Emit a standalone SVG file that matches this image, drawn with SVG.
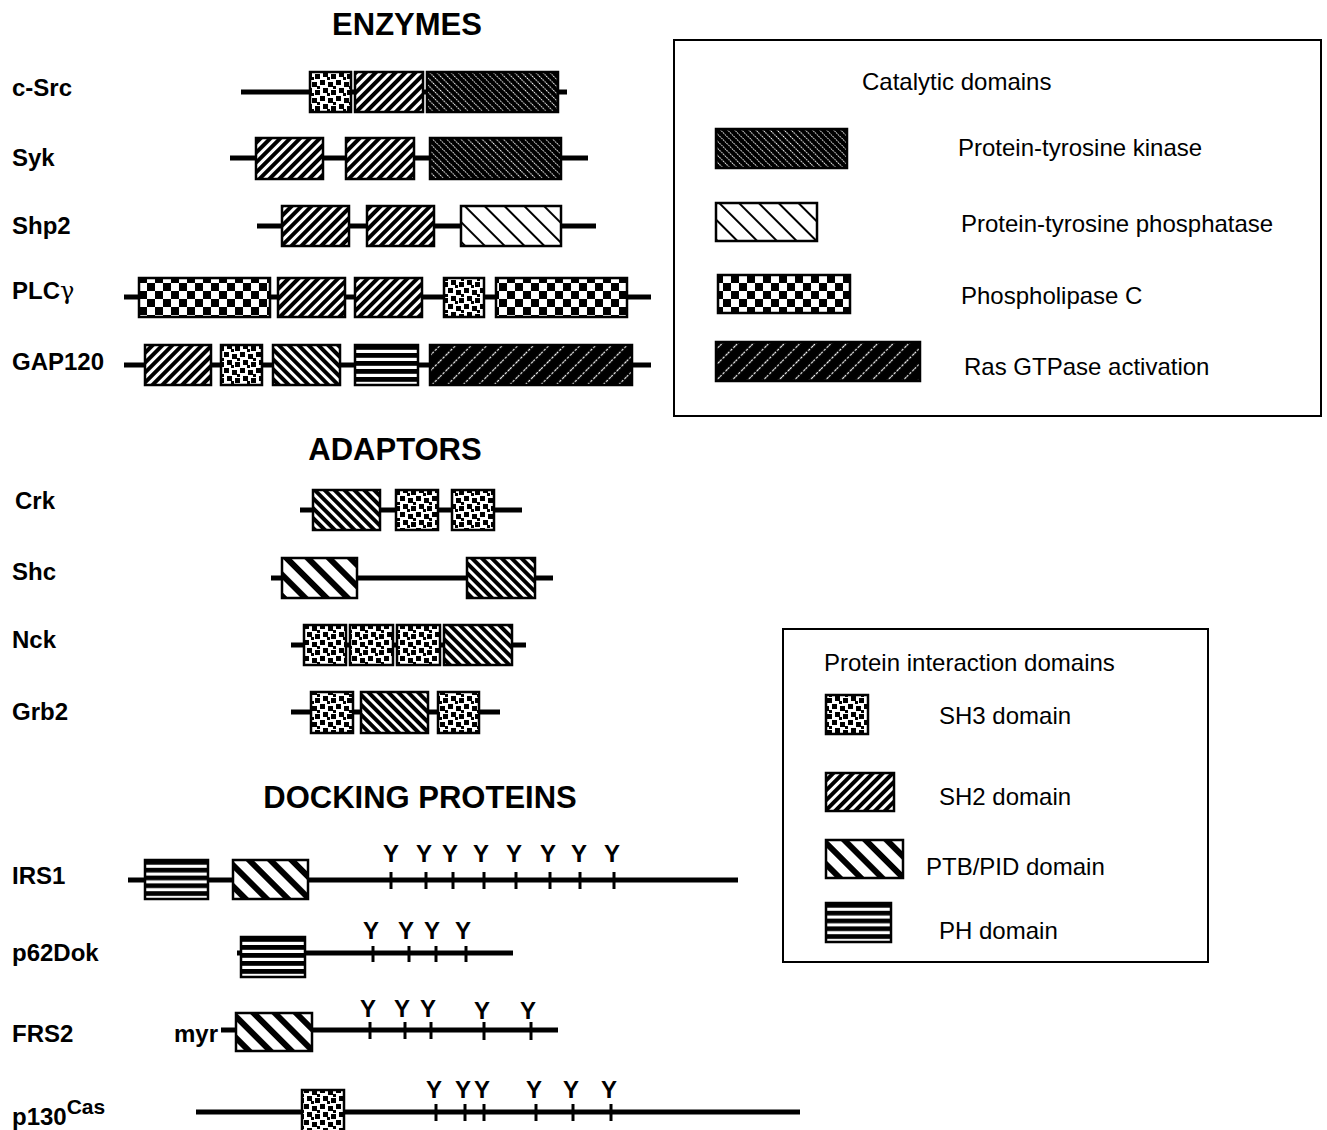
<svg xmlns="http://www.w3.org/2000/svg" width="1327" height="1130" viewBox="0 0 1327 1130">
<style>
text{font-family:"Liberation Sans",Arial,sans-serif;fill:#000}
.t{font-size:31px;font-weight:bold;text-anchor:middle}
.lb{font-size:24px;font-weight:bold}
.lg{font-size:24px}
.y{font-size:24px;font-weight:bold;text-anchor:middle}
.bb{stroke:#000;stroke-width:5;fill:none}
.tk{stroke:#000;stroke-width:3}
.bx{stroke:#000;stroke-width:2.5}
.fr{fill:none;stroke:#000;stroke-width:2}
</style>
<defs>
<pattern id="sh3" patternUnits="userSpaceOnUse" width="16" height="16">
<rect width="16" height="16" fill="#fff"/>
<rect x="0" y="0" width="5" height="5"/><rect x="8" y="2" width="5" height="5"/><rect x="3" y="8" width="5" height="5"/><rect x="11" y="10" width="5" height="5"/><rect x="7" y="13" width="3" height="3"/><rect x="13" y="6" width="3" height="3"/>
</pattern>
<pattern id="sh2" patternUnits="userSpaceOnUse" width="7" height="7" patternTransform="rotate(45)">
<rect width="7" height="7" fill="#fff"/><rect width="4" height="7" fill="#000"/>
</pattern>
<pattern id="sh2b" patternUnits="userSpaceOnUse" width="7" height="7" patternTransform="rotate(-45)">
<rect width="7" height="7" fill="#fff"/><rect width="4" height="7" fill="#000"/>
</pattern>
<pattern id="ptb" patternUnits="userSpaceOnUse" width="15" height="15" patternTransform="rotate(-45)">
<rect width="15" height="15" fill="#fff"/><rect width="6" height="15" fill="#000"/>
</pattern>
<pattern id="ptp" patternUnits="userSpaceOnUse" width="14" height="14" patternTransform="rotate(-45)">
<rect width="14" height="14" fill="#fff"/><rect width="2" height="14" fill="#000"/>
</pattern>
<pattern id="ptk" patternUnits="userSpaceOnUse" width="5" height="5" patternTransform="rotate(-45)">
<rect width="5" height="5" fill="#000"/><line x1="2.5" y1="0" x2="2.5" y2="5" stroke="#fff" stroke-width="1" stroke-dasharray="1.5 1.2"/>
</pattern>
<pattern id="plc" patternUnits="userSpaceOnUse" width="16" height="16">
<rect width="16" height="16" fill="#000"/><rect x="3" y="3" width="8" height="8" fill="#fff"/><rect x="11" y="11" width="8" height="8" fill="#fff"/><rect x="-5" y="11" width="8" height="8" fill="#fff"/><rect x="11" y="-5" width="8" height="8" fill="#fff"/><rect x="-5" y="-5" width="8" height="8" fill="#fff"/>
</pattern>
<pattern id="gap" patternUnits="userSpaceOnUse" width="11" height="11" patternTransform="rotate(45)">
<rect width="11" height="11" fill="#000"/><line x1="5.5" y1="0" x2="5.5" y2="11" stroke="#fff" stroke-width="1.2" stroke-dasharray="2.5 1.5"/>
</pattern>
<pattern id="ph" patternUnits="objectBoundingBox" patternContentUnits="objectBoundingBox" width="1" height="0.2">
<rect width="1" height="0.2" fill="#fff"/><rect width="1" height="0.12" fill="#000"/>
</pattern>
</defs>

<text class="t" x="407" y="35">ENZYMES</text>
<text class="t" x="395" y="460">ADAPTORS</text>
<text class="t" x="420" y="808">DOCKING PROTEINS</text>

<g id="c-Src">
<text class="lb" x="12" y="96">c-Src</text>
<line class="bb" x1="241" y1="92" x2="567" y2="92"/>
<rect class="bx" x="310" y="72" width="41" height="40" fill="url(#sh3)"/>
<rect class="bx" x="355" y="72" width="68" height="40" fill="url(#sh2)"/>
<rect class="bx" x="427" y="72" width="131" height="40" fill="url(#ptk)"/>
</g>
<g id="Syk">
<text class="lb" x="12" y="166">Syk</text>
<line class="bb" x1="230" y1="158" x2="588" y2="158"/>
<rect class="bx" x="256" y="138" width="67" height="41" fill="url(#sh2)"/>
<rect class="bx" x="346" y="138" width="68" height="41" fill="url(#sh2)"/>
<rect class="bx" x="430" y="138" width="131" height="41" fill="url(#ptk)"/>
</g>
<g id="Shp2">
<text class="lb" x="12" y="234">Shp2</text>
<line class="bb" x1="257" y1="226" x2="596" y2="226"/>
<rect class="bx" x="282" y="206" width="67" height="40" fill="url(#sh2)"/>
<rect class="bx" x="367" y="206" width="67" height="40" fill="url(#sh2)"/>
<rect class="bx" x="461" y="206" width="100" height="40" fill="url(#ptp)"/>
</g>
<g id="PLCg">
<text class="lb" x="12" y="299">PLC<tspan font-weight="normal" font-family="DejaVu Serif,serif">γ</tspan></text>
<line class="bb" x1="124" y1="297" x2="651" y2="297"/>
<rect class="bx" x="139" y="278" width="131" height="39" fill="url(#plc)"/>
<rect class="bx" x="278" y="278" width="67" height="39" fill="url(#sh2)"/>
<rect class="bx" x="355" y="278" width="67" height="39" fill="url(#sh2)"/>
<rect class="bx" x="444" y="278" width="40" height="39" fill="url(#sh3)"/>
<rect class="bx" x="496" y="278" width="131" height="39" fill="url(#plc)"/>
</g>
<g id="GAP120">
<text class="lb" x="12" y="370">GAP120</text>
<line class="bb" x1="124" y1="365" x2="651" y2="365"/>
<rect class="bx" x="145" y="345" width="66" height="40" fill="url(#sh2)"/>
<rect class="bx" x="221" y="345" width="41" height="40" fill="url(#sh3)"/>
<rect class="bx" x="273" y="345" width="67" height="40" fill="url(#sh2b)"/>
<rect class="bx" x="355" y="345" width="63" height="40" fill="url(#ph)"/>
<rect class="bx" x="430" y="345" width="202" height="40" fill="url(#gap)"/>
</g>

<g id="legend-catalytic">
<rect class="fr" x="674" y="40" width="647" height="376"/>
<text class="lg" x="862" y="90">Catalytic domains</text>
<rect class="bx" x="716" y="129" width="131" height="39" fill="url(#ptk)"/>
<text class="lg" x="958" y="156">Protein-tyrosine kinase</text>
<rect class="bx" x="716" y="203" width="101" height="38" fill="url(#ptp)"/>
<text class="lg" x="961" y="232">Protein-tyrosine phosphatase</text>
<rect class="bx" x="718" y="275" width="132" height="38" fill="url(#plc)"/>
<text class="lg" x="961" y="304">Phospholipase C</text>
<rect class="bx" x="716" y="342" width="204" height="39" fill="url(#gap)"/>
<text class="lg" x="964" y="375">Ras GTPase activation</text>
</g>

<g id="Crk">
<text class="lb" x="15" y="509">Crk</text>
<line class="bb" x1="300" y1="510" x2="522" y2="510"/>
<rect class="bx" x="313" y="490" width="67" height="40" fill="url(#sh2b)"/>
<rect class="bx" x="396" y="490" width="42" height="40" fill="url(#sh3)"/>
<rect class="bx" x="452" y="490" width="42" height="40" fill="url(#sh3)"/>
</g>
<g id="Shc">
<text class="lb" x="12" y="580">Shc</text>
<line class="bb" x1="271" y1="578" x2="553" y2="578"/>
<rect class="bx" x="282" y="558" width="75" height="40" fill="url(#ptb)"/>
<rect class="bx" x="467" y="558" width="68" height="40" fill="url(#sh2b)"/>
</g>
<g id="Nck">
<text class="lb" x="12" y="648">Nck</text>
<line class="bb" x1="291" y1="645" x2="526" y2="645"/>
<rect class="bx" x="304" y="625" width="42" height="40" fill="url(#sh3)"/>
<rect class="bx" x="350" y="625" width="43" height="40" fill="url(#sh3)"/>
<rect class="bx" x="397" y="625" width="43" height="40" fill="url(#sh3)"/>
<rect class="bx" x="444" y="625" width="68" height="40" fill="url(#sh2b)"/>
</g>
<g id="Grb2">
<text class="lb" x="12" y="720">Grb2</text>
<line class="bb" x1="291" y1="712" x2="500" y2="712"/>
<rect class="bx" x="311" y="692" width="42" height="41" fill="url(#sh3)"/>
<rect class="bx" x="361" y="692" width="67" height="41" fill="url(#sh2b)"/>
<rect class="bx" x="438" y="692" width="41" height="41" fill="url(#sh3)"/>
</g>

<g id="legend-interaction">
<rect class="fr" x="783" y="629" width="425" height="333"/>
<text class="lg" x="824" y="671">Protein interaction domains</text>
<rect class="bx" x="826" y="695" width="42" height="39" fill="url(#sh3)"/>
<text class="lg" x="939" y="724">SH3 domain</text>
<rect class="bx" x="826" y="773" width="68" height="38" fill="url(#sh2)"/>
<text class="lg" x="939" y="805">SH2 domain</text>
<rect class="bx" x="826" y="840" width="77" height="38" fill="url(#ptb)"/>
<text class="lg" x="926" y="875">PTB/PID domain</text>
<rect class="bx" x="826" y="903" width="65" height="39" fill="url(#ph)"/>
<text class="lg" x="939" y="939">PH domain</text>
</g>

<g id="IRS1">
<text class="lb" x="12" y="884">IRS1</text>
<line class="bb" x1="128" y1="880" x2="738" y2="880"/>
<rect class="bx" x="145" y="860" width="63" height="39" fill="url(#ph)"/>
<rect class="bx" x="233" y="860" width="75" height="39" fill="url(#ptb)"/>
<g class="tk"><line x1="391" y1="872" x2="391" y2="889"/><line x1="426" y1="872" x2="426" y2="889"/><line x1="453" y1="872" x2="453" y2="889"/><line x1="484" y1="872" x2="484" y2="889"/><line x1="516" y1="872" x2="516" y2="889"/><line x1="550" y1="872" x2="550" y2="889"/><line x1="580" y1="872" x2="580" y2="889"/><line x1="614" y1="872" x2="614" y2="889"/></g>
<text class="y" x="391" y="862">Y</text><text class="y" x="424" y="862">Y</text><text class="y" x="450" y="862">Y</text><text class="y" x="481" y="862">Y</text><text class="y" x="514" y="862">Y</text><text class="y" x="548" y="862">Y</text><text class="y" x="579" y="862">Y</text><text class="y" x="612" y="862">Y</text>
</g>
<g id="p62Dok">
<text class="lb" x="12" y="961">p62Dok</text>
<line class="bb" x1="237" y1="953" x2="513" y2="953"/>
<rect class="bx" x="241" y="937" width="64" height="40" fill="url(#ph)"/>
<g class="tk"><line x1="373" y1="946" x2="373" y2="962"/><line x1="409" y1="946" x2="409" y2="962"/><line x1="436" y1="946" x2="436" y2="962"/><line x1="466" y1="946" x2="466" y2="962"/></g>
<text class="y" x="371" y="939">Y</text><text class="y" x="406" y="939">Y</text><text class="y" x="432" y="939">Y</text><text class="y" x="463" y="939">Y</text>
</g>
<g id="FRS2">
<text class="lb" x="12" y="1042">FRS2</text>
<text class="lb" x="174" y="1042">myr</text>
<line class="bb" x1="221" y1="1030" x2="558" y2="1030"/>
<rect class="bx" x="236" y="1013" width="76" height="38" fill="url(#ptb)"/>
<g class="tk"><line x1="370" y1="1022" x2="370" y2="1039"/><line x1="405" y1="1022" x2="405" y2="1039"/><line x1="431" y1="1022" x2="431" y2="1039"/><line x1="484" y1="1022" x2="484" y2="1040"/><line x1="531" y1="1022" x2="531" y2="1040"/></g>
<text class="y" x="368" y="1017">Y</text><text class="y" x="402" y="1017">Y</text><text class="y" x="428" y="1017">Y</text><text class="y" x="482" y="1019">Y</text><text class="y" x="528" y="1019">Y</text>
</g>
<g id="p130Cas">
<text class="lb" x="12" y="1125">p130<tspan font-size="21" dy="-11">Cas</tspan></text>
<line class="bb" x1="196" y1="1112" x2="800" y2="1112"/>
<rect class="bx" x="302" y="1090" width="42" height="42" fill="url(#sh3)"/>
<g class="tk"><line x1="436" y1="1104" x2="436" y2="1121"/><line x1="465" y1="1104" x2="465" y2="1121"/><line x1="484" y1="1104" x2="484" y2="1121"/><line x1="536" y1="1104" x2="536" y2="1121"/><line x1="573" y1="1104" x2="573" y2="1121"/><line x1="611" y1="1104" x2="611" y2="1121"/></g>
<text class="y" x="434" y="1098">Y</text><text class="y" x="463" y="1098">Y</text><text class="y" x="482" y="1098">Y</text><text class="y" x="534" y="1098">Y</text><text class="y" x="571" y="1098">Y</text><text class="y" x="609" y="1098">Y</text>
</g>
</svg>
